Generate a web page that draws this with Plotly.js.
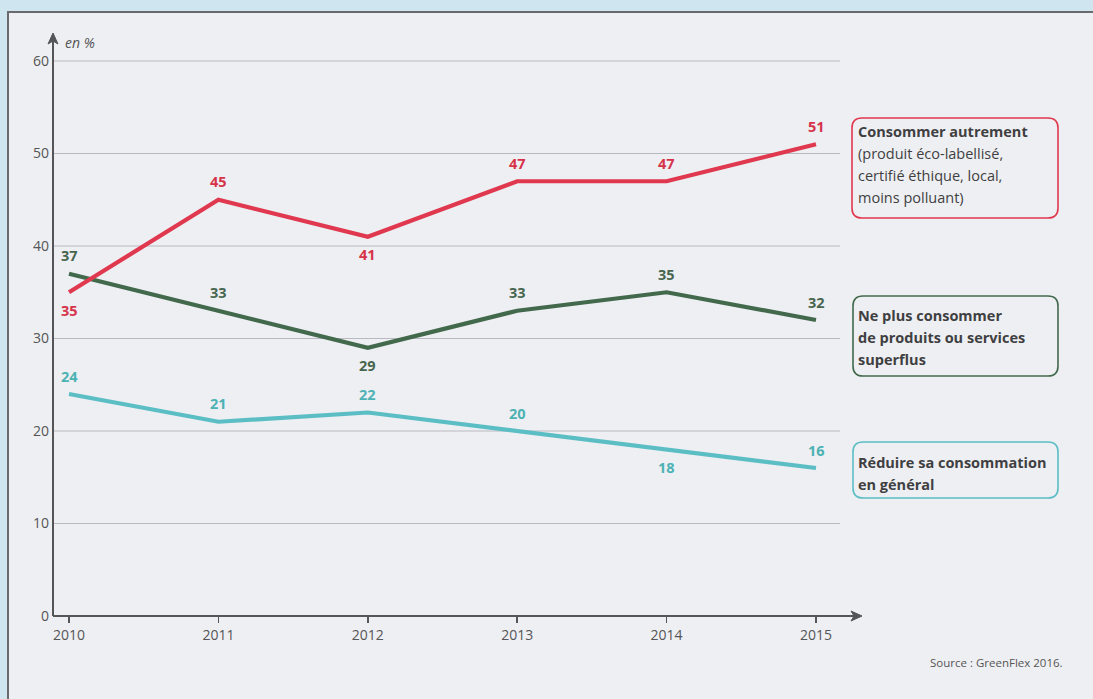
<!DOCTYPE html>
<html>
<head>
<meta charset="utf-8">
<script src="https://cdn.plot.ly/plotly-3.0.1.min.js"></script>
<style>html,body{margin:0;padding:0;background:#cfe6f1;}#chart{width:1093px;height:699px;}</style>
</head>
<body>
<div id="chart"></div>
<script>
// ---- data ----
const years = [2010, 2011, 2012, 2013, 2014, 2015];
const autrement = [35, 45, 41, 47, 47, 51];
const superflus = [37, 33, 29, 33, 35, 32];
const reduire = [24, 21, 22, 20, 18, 16];
const yTicks = [0, 10, 20, 30, 40, 50, 60];
const nameAutrement = ['Consommer autrement', '(produit éco-labellisé,', 'certifié éthique, local,', 'moins polluant)'];
const nameSuperflus = ['Ne plus consommer', 'de produits ou services', 'superflus'];
const nameReduire = ['Réduire sa consommation', 'en général'];

// ---- layout geometry (pixels) ----
const W = 1093, H = 699;
const L = 53, R = 862, T = 33, B = 616;
const pxPerYear = 149.4, pxPerUnit = 9.25;
const X = px => (px - L) / (R - L);
const Y = py => (B - py) / (B - T);
const xmin = 2010 - (69 - L) / pxPerYear;
const xmax = xmin + (R - L) / pxPerYear;
const ymax = (B - T) / pxPerUnit;

const FONT = 'Open Sans, Noto Sans, sans-serif';
const red = '#e0384f', redTxt = '#d6334a';
const green = '#43694d', greenTxt = '#47664f';
const cyan = '#5bbec5', cyanTxt = '#4cb2b4';
const axisCol = '#555558';

// label side: +1 above, -1 below
const sideA = [-1, 1, -1, 1, 1, 1];
const sideS = [1, 1, -1, 1, 1, 1];
const sideR = [1, 1, 1, 1, -1, 1];

function trace(y, color) {
  return {
    x: years, y: y, type: 'scatter', mode: 'lines',
    line: {color: color, width: 4.2},
    hoverinfo: 'skip', showlegend: false
  };
}
const data = [
  trace(reduire, cyan),
  trace(superflus, green),
  trace(autrement, red)
];

const annotations = [];
function labels(y, side, tcolor) {
  y.forEach((v, i) => annotations.push({
    xref: 'x', yref: 'y', x: years[i], y: v, text: String(v), showarrow: false,
    yshift: side[i] * 18, xanchor: 'center', yanchor: 'middle',
    font: {family: FONT, size: 14.5, color: tcolor, weight: 'bold'}
  }));
}
labels(autrement, sideA, redTxt);
labels(superflus, sideS, greenTxt);
labels(reduire, sideR, cyanTxt);

function rrect(x0, y0, x1, y1, r) {
  const p = (a, b) => X(a).toFixed(5) + ',' + Y(b).toFixed(5);
  return 'M' + p(x0 + r, y0) + ' L' + p(x1 - r, y0) + ' Q' + p(x1, y0) + ' ' + p(x1, y0 + r) +
    ' L' + p(x1, y1 - r) + ' Q' + p(x1, y1) + ' ' + p(x1 - r, y1) +
    ' L' + p(x0 + r, y1) + ' Q' + p(x0, y1) + ' ' + p(x0, y1 - r) +
    ' L' + p(x0, y0 + r) + ' Q' + p(x0, y0) + ' ' + p(x0 + r, y0) + ' Z';
}

const shapes = [
  {type: 'rect', xref: 'paper', yref: 'paper', x0: X(8), x1: X(W + 10), y0: Y(12), y1: Y(H + 10),
   fillcolor: '#eeeff2', line: {color: '#6a6a6e', width: 2}, layer: 'below'}
];
yTicks.filter(v => v > 0).forEach(v => shapes.push({
  type: 'line', xref: 'paper', yref: 'y', x0: 0, x1: X(840), y0: v, y1: v,
  line: {color: '#b9b9c0', width: 1}, layer: 'below'
}));
shapes.push({type: 'line', xref: 'paper', yref: 'paper', x0: 0, x1: 0, y0: 0, y1: Y(40),
  line: {color: axisCol, width: 2}});
shapes.push({type: 'line', xref: 'paper', yref: 'paper', x0: 0, x1: X(856), y0: 0, y1: 0,
  line: {color: axisCol, width: 2}});
shapes.push({type: 'path', xref: 'paper', yref: 'paper',
  path: 'M' + X(L - 5) + ',' + Y(44) + ' L' + X(L) + ',' + Y(T) + ' L' + X(L + 5) + ',' + Y(44) + ' L' + X(L) + ',' + Y(41) + ' Z',
  fillcolor: axisCol, line: {color: axisCol, width: 1}});
shapes.push({type: 'path', xref: 'paper', yref: 'paper',
  path: 'M' + X(851) + ',' + Y(B - 5) + ' L' + X(R) + ',' + Y(B) + ' L' + X(851) + ',' + Y(B + 5) + ' L' + X(854) + ',' + Y(B) + ' Z',
  fillcolor: axisCol, line: {color: axisCol, width: 1}});
shapes.push({type: 'path', xref: 'paper', yref: 'paper', path: rrect(852, 118, 1058, 218, 10),
  line: {color: red, width: 1.6}});
shapes.push({type: 'path', xref: 'paper', yref: 'paper', path: rrect(853, 296, 1058, 376, 10),
  line: {color: green, width: 1.6}});
shapes.push({type: 'path', xref: 'paper', yref: 'paper', path: rrect(853, 442, 1058, 498, 10),
  line: {color: cyan, width: 1.6}});

function boxText(lines, yStart, boldAll) {
  lines.forEach((t, i) => annotations.push({
    xref: 'paper', yref: 'paper', x: X(856), y: Y(yStart + i * 22), xanchor: 'left', yanchor: 'middle',
    text: t, showarrow: false,
    font: {family: FONT, size: 14.5, color: '#3f3f42', weight: (boldAll || i === 0) ? 'bold' : 'normal'}
  }));
}
boxText(nameAutrement, 131, false);
boxText(nameSuperflus, 315, true);
boxText(nameReduire, 462, true);
annotations.push({xref: 'paper', yref: 'paper', x: X(63), y: Y(42), xanchor: 'left', yanchor: 'middle',
  text: '<i>en %</i>', showarrow: false, font: {family: FONT, size: 14, color: axisCol}});
annotations.push({xref: 'paper', yref: 'paper', x: X(1065), y: Y(662), xanchor: 'right', yanchor: 'middle',
  text: 'Source : GreenFlex 2016.', showarrow: false, font: {family: FONT, size: 11.5, color: '#555'}});

const layout = {
  width: W, height: H,
  margin: {l: L, r: W - R, t: T, b: H - B, pad: 0},
  paper_bgcolor: '#cfe6f1', plot_bgcolor: 'rgba(0,0,0,0)',
  xaxis: {range: [xmin, xmax], tickvals: years, ticktext: years.map(String), showgrid: false, zeroline: false,
    showline: false, ticks: 'outside', ticklen: 6, tickwidth: 1.5, tickcolor: axisCol,
    tickfont: {family: FONT, size: 14, color: axisCol}, fixedrange: true},
  yaxis: {range: [0, ymax], tickvals: yTicks, ticktext: yTicks.map(String), showgrid: false, zeroline: false,
    showline: false, ticks: '', tickfont: {family: FONT, size: 14, color: axisCol}, ticklabelstandoff: 3, fixedrange: true},
  shapes: shapes, annotations: annotations, showlegend: false
};
Plotly.newPlot('chart', data, layout, {displayModeBar: false, staticPlot: true});
</script>
</body>
</html>
